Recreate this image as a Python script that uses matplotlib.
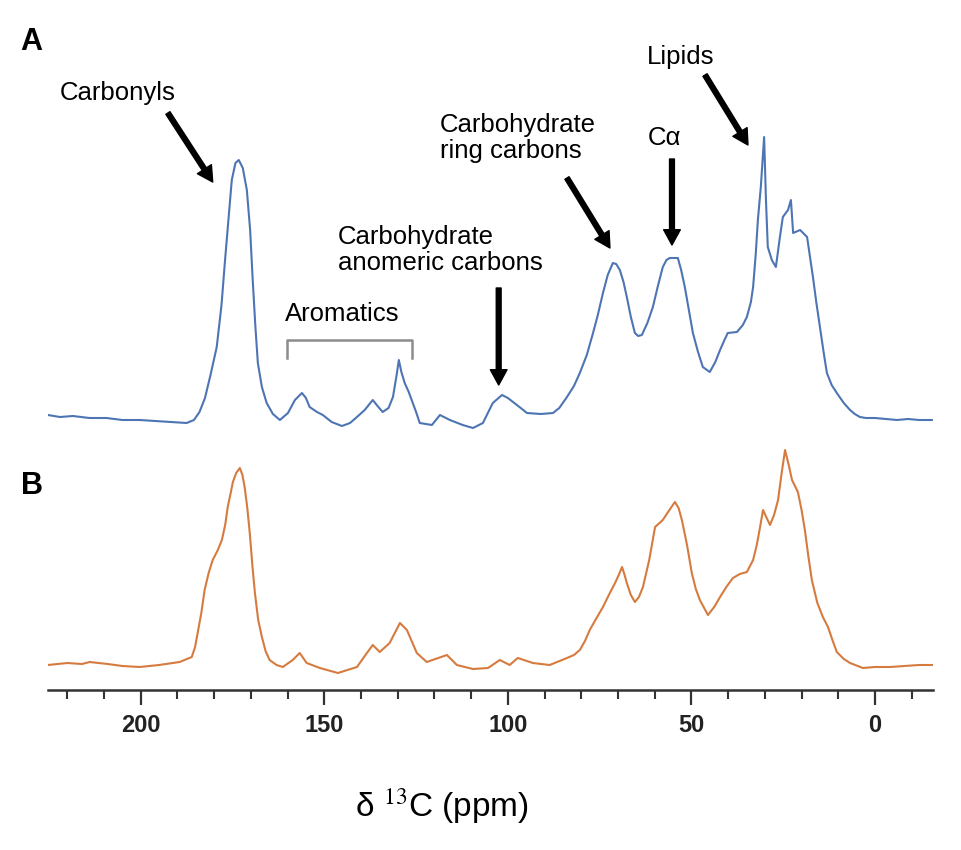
import matplotlib
matplotlib.use("Agg")
import matplotlib.pyplot as plt
from matplotlib.ticker import MultipleLocator

plt.rcParams["font.family"] = ["Liberation Sans", "DejaVu Sans"]
plt.rcParams["mathtext.fontset"] = "stix"

# spectrum A (blue), chemical shift in ppm and intensity
ppm_a = [225.3, 222.0, 218.5, 214.0, 209.3, 205.0, 200.3, 196.0, 191.3, 187.5,
         185.5, 184.0, 182.5, 181.0, 179.3, 178.0, 177.1, 176.0, 175.2, 174.2,
         173.3, 172.2, 171.1, 170.2, 169.5, 168.8, 168.1, 167.0, 165.7, 164.0,
         162.1, 159.9, 158.0, 156.1, 155.0, 154.0, 152.0, 150.4, 148.0, 145.2,
         143.0, 141.1, 139.0, 136.8, 135.5, 134.1, 132.5, 131.3, 130.3, 129.7,
         129.0, 128.1, 127.0, 126.2, 125.0, 124.0, 120.7, 118.5, 115.8, 112.3,
         109.5, 106.8, 104.1, 101.6, 100.0, 98.6, 96.5, 94.8, 91.0, 87.7,
         86.0, 83.9, 82.0, 80.4, 78.5, 76.8, 75.5, 74.1, 72.8, 71.4,
         70.5, 69.5, 68.5, 67.6, 66.5, 65.4, 64.5, 63.5, 62.0, 60.5,
         59.2, 57.8, 56.8, 55.9, 53.7, 52.8, 51.8, 50.7, 49.6, 48.2,
         46.9, 45.0, 43.5, 42.2, 41.0, 40.1, 37.6, 36.0, 34.9, 33.8,
         33.2, 32.5, 31.9, 31.1, 30.2, 29.7, 29.2, 28.1, 27.0, 25.9,
         25.1, 23.7, 22.9, 22.3, 20.4, 18.5, 16.9, 16.0, 15.0, 14.0,
         13.1, 11.8, 10.4, 8.5, 6.8, 5.5, 4.1, 2.5, 0.0, -3.0,
         -6.0, -9.0, -12.0, -15.5]
int_a = [5, 3, 4, 2, 2, 0, 0, -1, -2, -3,
         0, 8, 22, 45, 73, 115, 157, 205, 240, 257,
         260, 252, 230, 190, 140, 95, 57, 33, 17, 6,
         0, 7, 20, 27, 22, 13, 8, 5, -2, -6,
         -3, 3, 10, 20, 14, 8, 12, 23, 45, 60,
         48, 37, 28, 20, 8, -3, -5, 5, 0, -5,
         -8, -3, 17, 25, 22, 18, 12, 7, 6, 7,
         12, 23, 34, 47, 65, 87, 105, 127, 145, 157,
         156, 150, 138, 123, 103, 87, 84, 85, 97, 113,
         133, 153, 160, 162, 162, 150, 133, 110, 87, 68,
         53, 48, 58, 70, 80, 87, 88, 95, 103, 118,
         133, 165, 200, 233, 283, 220, 173, 160, 153, 183,
         203, 210, 220, 187, 190, 183, 143, 118, 93, 68,
         47, 35, 27, 17, 10, 6, 3, 2, 2, 1,
         0, 1, 0, 0]

# spectrum B (orange)
ppm_b = [225.3, 220.0, 216.0, 213.9, 209.0, 205.0, 200.3, 195.0, 189.4, 186.1,
         185.2, 184.5, 183.5, 182.6, 181.5, 180.4, 179.0, 177.9, 177.0, 176.3,
         175.5, 174.9, 174.0, 173.0, 172.3, 171.7, 171.0, 170.3, 169.6, 168.9,
         168.0, 167.0, 166.0, 164.9, 163.0, 161.3, 158.6, 156.7, 154.8, 151.2,
         146.3, 141.1, 138.4, 136.8, 134.9, 132.2, 129.4, 127.5, 124.8, 122.1,
         116.6, 113.9, 109.5, 105.4, 102.2, 99.5, 97.3, 93.2, 88.6, 83.9,
         82.0, 80.4, 79.0, 77.7, 76.0, 74.1, 72.5, 70.8, 69.8, 68.9,
         68.2, 67.6, 66.5, 65.4, 64.3, 63.2, 61.5, 59.9, 57.8, 56.0,
         54.5, 53.5, 52.6, 51.2, 49.9, 48.8, 47.7, 45.5, 43.8, 42.2,
         40.5, 38.7, 36.8, 34.9, 33.2, 32.2, 31.3, 30.5, 29.5, 28.6,
         27.5, 26.4, 25.5, 24.5, 23.5, 22.6, 21.0, 20.0, 19.1, 18.2,
         17.2, 15.7, 14.2, 12.8, 11.6, 10.4, 8.5, 6.8, 3.3, 0.0,
         -4.1, -8.0, -12.0, -15.8]
int_b = [0, 2, 1, 3, 1, -1, -2, 0, 3, 8,
         18, 32, 52, 75, 92, 105, 115, 125, 140, 158,
         172, 183, 192, 197, 190, 178, 158, 132, 100, 72,
         45, 28, 14, 5, 0, -2, 5, 12, 2, -3,
         -8, -2, 12, 20, 13, 22, 42, 35, 12, 3,
         10, 0, -4, -3, 5, 0, 7, 2, 0, 7,
         10, 15, 24, 35, 46, 58, 70, 82, 90, 98,
         90, 82, 70, 63, 68, 78, 105, 138, 145, 155,
         163, 157, 145, 120, 92, 76, 65, 50, 58, 68,
         78, 87, 91, 93, 105, 120, 138, 155, 147, 140,
         150, 165, 190, 215, 200, 185, 173, 155, 135, 110,
         85, 62, 48, 38, 25, 13, 6, 2, -3, -2,
         -2, -1, 0, 0]

tick_major = 50
tick_minor = 10

blue = "#4d75b3"
orange = "#d67b3f"
offset_a = 270
offset_b = 25
label_size = 18.5


def draw_arrow(ax, tail, tip):
    ax.annotate("", xy=tip, xytext=tail,
                arrowprops=dict(facecolor="black", edgecolor="black",
                                width=3.5, headwidth=12, headlength=11,
                                shrink=0))


fig = plt.figure(figsize=(9.62, 8.5), dpi=100)
ax = fig.add_axes([48 / 962, 1 - 690 / 850, 885 / 962, 660 / 850])

ax.plot(ppm_a, [v + offset_a for v in int_a], color=blue, lw=1.5)
ax.plot(ppm_b, [v + offset_b for v in int_b], color=orange, lw=1.5)

ax.set_xlim(225.26, -15.8)
ax.set_ylim(0, 660)
ax.set_yticks([])
for side in ["left", "right", "top"]:
    ax.spines[side].set_visible(False)
ax.spines["bottom"].set_linewidth(1.8)
ax.spines["bottom"].set_color("#333333")

ax.xaxis.set_major_locator(MultipleLocator(tick_major))
ax.xaxis.set_minor_locator(MultipleLocator(tick_minor))
ax.tick_params(axis="x", which="major", length=11, width=1.6, pad=6,
               labelsize=17, color="#333333", labelcolor="#222222")
ax.tick_params(axis="x", which="minor", length=6.5, width=1.5, color="#333333")
for lbl in ax.get_xticklabels():
    lbl.set_fontweight("bold")

# peak annotations
ax.text(222.1, 590, "Carbonyls", fontsize=label_size, va="baseline")
draw_arrow(ax, (192.6, 577), (180.4, 508))

ax.text(160.8, 369, "Aromatics", fontsize=label_size, va="baseline")
ax.plot([160.2, 160.2, 126.2, 126.2], [332, 350, 350, 332],
        color="#8c8c8c", lw=1.8)

ax.text(146.3, 465, "Carbohydrate\nanomeric carbons", fontsize=label_size,
        va="top", linespacing=1.1)
draw_arrow(ax, (102.5, 402), (102.5, 305))

ax.text(118.5, 577, "Carbohydrate\nring carbons", fontsize=label_size,
        va="top", linespacing=1.1)
draw_arrow(ax, (83.9, 512), (72.2, 442))

ax.text(57.2, 545, "Cα", fontsize=label_size, ha="center", va="baseline")
draw_arrow(ax, (55.3, 531), (55.3, 445))

ax.text(62.1, 626, "Lipids", fontsize=label_size, va="baseline")
draw_arrow(ax, (46.3, 615), (34.6, 545))

fig.text(20 / 962, 1 - 50 / 850, "A", fontsize=22, fontweight="bold",
         va="baseline")
fig.text(21 / 962, 1 - 494 / 850, "B", fontsize=22, fontweight="bold",
         va="baseline")
fig.text(441.5 / 962, 1 - 817 / 850, "δ $^{13}$C (ppm)", fontsize=24,
         ha="center", va="baseline")

fig.savefig("out.png", dpi=100)
